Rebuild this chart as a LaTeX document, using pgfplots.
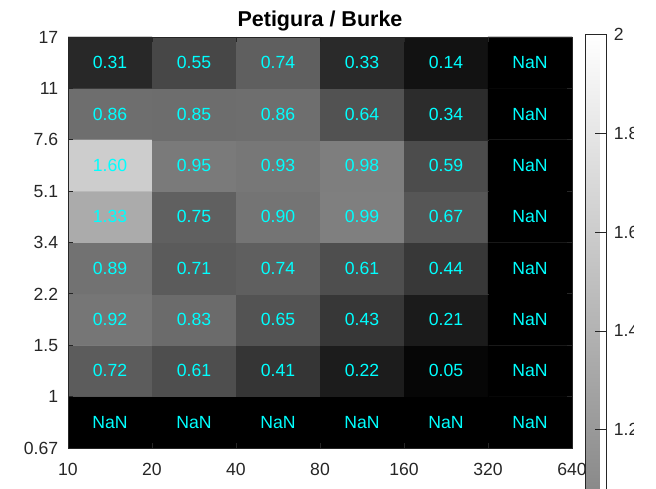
\documentclass[border=0pt]{standalone}
\usepackage{fontspec}
\setmainfont{Liberation Sans}
\usepackage{pgfplots}
\pgfplotsset{compat=1.18}
\usepackage{pgfplotstable}
\definecolor{mcyan}{RGB}{0,255,255}
\definecolor{axgray}{RGB}{38,38,38}

\pgfplotstableread{
x y c lab
0.5 0.5 0 NaN
1.5 0.5 0 NaN
2.5 0.5 0 NaN
3.5 0.5 0 NaN
4.5 0.5 0 NaN
5.5 0.5 0 NaN
0.5 1.5 0.72 0.72
1.5 1.5 0.61 0.61
2.5 1.5 0.41 0.41
3.5 1.5 0.22 0.22
4.5 1.5 0.05 0.05
5.5 1.5 0 NaN
0.5 2.5 0.92 0.92
1.5 2.5 0.83 0.83
2.5 2.5 0.65 0.65
3.5 2.5 0.43 0.43
4.5 2.5 0.21 0.21
5.5 2.5 0 NaN
0.5 3.5 0.89 0.89
1.5 3.5 0.71 0.71
2.5 3.5 0.74 0.74
3.5 3.5 0.61 0.61
4.5 3.5 0.44 0.44
5.5 3.5 0 NaN
0.5 4.5 1.33 1.33
1.5 4.5 0.75 0.75
2.5 4.5 0.90 0.90
3.5 4.5 0.99 0.99
4.5 4.5 0.67 0.67
5.5 4.5 0 NaN
0.5 5.5 1.60 1.60
1.5 5.5 0.95 0.95
2.5 5.5 0.93 0.93
3.5 5.5 0.98 0.98
4.5 5.5 0.59 0.59
5.5 5.5 0 NaN
0.5 6.5 0.86 0.86
1.5 6.5 0.85 0.85
2.5 6.5 0.86 0.86
3.5 6.5 0.64 0.64
4.5 6.5 0.34 0.34
5.5 6.5 0 NaN
0.5 7.5 0.31 0.31
1.5 7.5 0.55 0.55
2.5 7.5 0.74 0.74
3.5 7.5 0.33 0.33
4.5 7.5 0.14 0.14
5.5 7.5 0 NaN
}\cells

\begin{document}
\begin{tikzpicture}
\begin{axis}[
  at={(68pt,40pt)}, anchor=south west,
  scale only axis, width=504pt, height=411pt,
  xmin=0, xmax=6, ymin=0, ymax=8,
  xtick={0,1,2,3,4,5,6}, xticklabels={10,20,40,80,160,320,640},
  ytick={0,1,2,3,4,5,6,7,8}, yticklabels={0.67,1,1.5,2.2,3.4,5.1,7.6,11,17},
  tick align=inside, major tick length=5pt,
  axis line style={axgray, line width=0.8pt},
  tick style={axgray, line width=0.8pt},
  ticklabel style={font=\fontsize{17.6}{20}\selectfont, text=axgray, inner sep=0pt},
  xticklabel style={anchor=base, yshift=-27.7pt},
  yticklabel style={anchor=east, xshift=-9.7pt},
  point meta min=0, point meta max=2,
  colormap/blackwhite,
  colorbar,
  colorbar style={
    at={(parent axis.north east)}, anchor=north west, xshift=5.2pt, yshift=2.2pt,
    scale only axis, width=20.3pt, height=987pt,
    ytick={1.2,1.4,1.6,1.8,2},
    yticklabels={1.2,1.4,1.6,1.8,2},
    ytick pos=right,
    tick align=inside, major tick length=10.7pt,
    axis line style={axgray, line width=0.8pt},
    tick style={axgray, line width=0.8pt},
    yticklabel style={anchor=west, inner sep=0pt, xshift=7.6pt, font=\fontsize{17.6}{20}\selectfont, text=axgray},
  },
  title={Petigura / Burke},
  title style={at={(0.5,1)}, anchor=base, yshift=4.3pt, font=\bfseries\fontsize{21.5}{24}\selectfont, text=black},
  axis on top,
]
\addplot[matrix plot*, mesh/cols=6, point meta=explicit] table[x=x, y=y, meta=c]{\cells};
\addplot[draw=none, mark=none, nodes near coords, point meta=explicit symbolic,
  every node near coord/.append style={anchor=center, text=mcyan, font=\fontsize{17.6}{20}\selectfont, inner sep=0pt}]
  table[x=x, y=y, meta=lab]{\cells};
\end{axis}
\fill[white] (634pt,0pt) rectangle (660pt,488pt);
\pgfresetboundingbox
\path[use as bounding box] (0,0) rectangle (656pt,488pt);
\end{tikzpicture}
\end{document}
